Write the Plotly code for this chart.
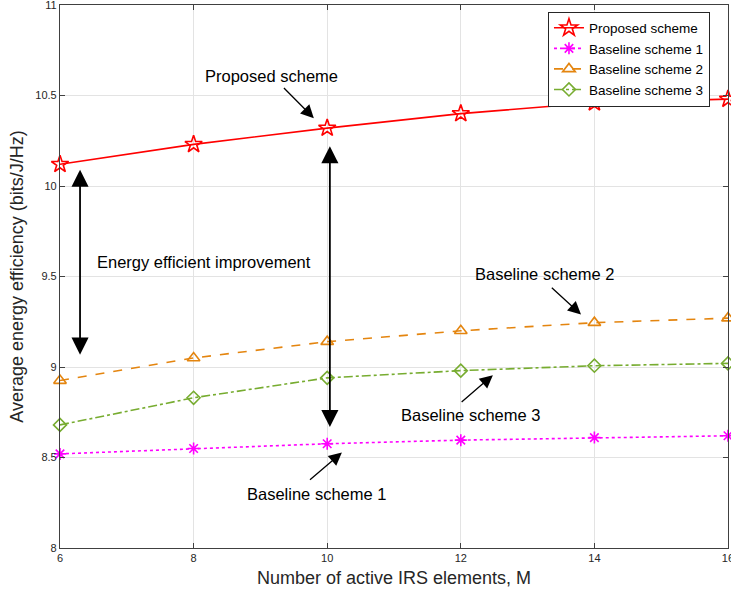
import plotly.graph_objects as go

M = [6, 8, 10, 12, 14, 16]
proposed = [10.12, 10.23, 10.32, 10.40, 10.46, 10.48]
baseline1 = [8.52, 8.55, 8.576, 8.596, 8.61, 8.62]
baseline2 = [8.925, 9.05, 9.14, 9.20, 9.245, 9.27]
baseline3 = [8.68, 8.83, 8.94, 8.98, 9.007, 9.02]

x_ticks = [6, 8, 10, 12, 14, 16]
y_ticks = [8, 8.5, 9, 9.5, 10, 10.5, 11]
y_tick_text = ["8", "8.5", "9", "9.5", "10", "10.5", "11"]

series = [
    ("Proposed scheme", proposed, "#ff0000", "solid", "star-open", 13),
    ("Baseline scheme 1", baseline1, "#ff00ff", "dot", "asterisk-open", 10),
    ("Baseline scheme 2", baseline2, "#e4850f", "dash", "triangle-up-open", 11),
    ("Baseline scheme 3", baseline3, "#77ac30", "dashdot", "diamond-open", 10),
]

fig = go.Figure()
for name, ys, col, dash, sym, sz in series:
    fig.add_trace(go.Scatter(
        x=M, y=ys, name=name, mode="lines+markers", cliponaxis=False,
        line=dict(color=col, width=1.6, dash=dash),
        marker=dict(symbol=sym, size=sz, color=col, line=dict(color=col, width=1.6)),
    ))

font = "Liberation Sans, Arial, sans-serif"
txt_col = "#000000"

annotations = []
labels = [
    ("Proposed scheme", 9.16, 10.61),
    ("Energy efficient improvement", 8.15, 9.58),
    ("Baseline scheme 2", 13.26, 9.515),
    ("Baseline scheme 3", 12.15, 8.735),
    ("Baseline scheme 1", 9.84, 8.30),
]
for t, x, y in labels:
    annotations.append(dict(x=x, y=y, xref="x", yref="y", text=t, showarrow=False,
                            font=dict(family=font, size=16.5, color=txt_col)))

arrows = [
    (9.80, 10.375, 9.33, 10.55),
    (13.80, 9.29, 13.34, 9.445),
    (12.48, 8.955, 11.99, 8.80),
    (10.22, 8.528, 9.72, 8.37),
]
for hx, hy, tx, ty in arrows:
    annotations.append(dict(x=hx, y=hy, xref="x", yref="y", ax=tx, ay=ty, axref="x", ayref="y",
                            text="", showarrow=True, arrowhead=2, arrowsize=2.0, arrowwidth=1.3,
                            arrowcolor="#000000", standoff=0, startstandoff=0))

dbl = [
    (6.3, 10.09, 6.3, 9.06),
    (10.04, 10.22, 10.04, 8.66),
]
for hx, hy, tx, ty in dbl:
    annotations.append(dict(x=hx, y=hy, xref="x", yref="y", ax=tx, ay=ty, axref="x", ayref="y",
                            text="", showarrow=True, arrowhead=2, startarrowhead=2,
                            arrowside="end+start", arrowsize=1.9, startarrowsize=1.9,
                            arrowwidth=1.8, arrowcolor="#000000", standoff=0, startstandoff=0))

axis_common = dict(
    showline=True, linecolor="#404040", linewidth=1.2, mirror="allticks",
    ticks="inside", ticklen=5, tickwidth=1, tickcolor="#404040",
    showgrid=True, gridcolor="#e3e3e3", gridwidth=1, zeroline=False,
    tickfont=dict(family=font, size=11, color="#262626"),
    automargin=False, ticklabeloverflow="allow",
)

fig.update_layout(
    width=731, height=597,
    margin=dict(l=60, r=3, t=5, b=49),
    paper_bgcolor="white", plot_bgcolor="white",
    font=dict(family=font, color="#262626"),
    xaxis=dict(range=[6, 16.0001], tickvals=x_ticks, ticktext=[str(v) for v in x_ticks],
               title=dict(text="Number of active IRS elements, M", font=dict(family=font, size=18, color="#262626"), standoff=8),
               **axis_common),
    yaxis=dict(range=[8, 11.0001], tickvals=y_ticks, ticktext=y_tick_text,
               title=dict(text="Average energy efficiency (bits/J/Hz)", font=dict(family=font, size=18, color="#262626"), standoff=6),
               **axis_common),
    legend=dict(x=0.7305, y=0.988, xanchor="left", yanchor="top",
                bgcolor="white", bordercolor="#262626", borderwidth=1,
                font=dict(family=font, size=13.5, color="#000000"),
                tracegroupgap=0, itemwidth=30),
    annotations=annotations,
    showlegend=True,
)

fig.write_html("out.html", config={"displayModeBar": False},
               post_script="document.body.style.margin='0px';document.body.style.overflow='hidden';")
